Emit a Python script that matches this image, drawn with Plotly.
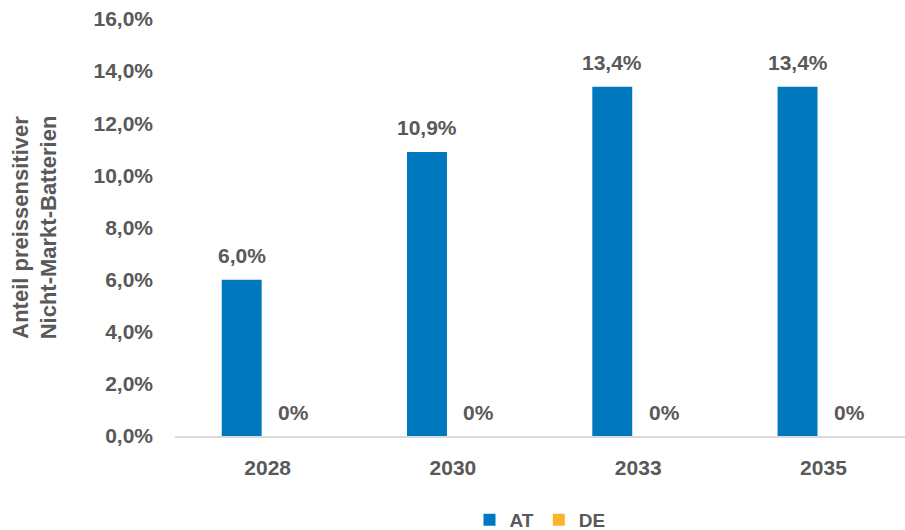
import plotly.graph_objects as go

# Data
years = ["2028", "2030", "2033", "2035"]
at_values = [6.0, 10.9, 13.4, 13.4]
de_values = [0.0, 0.0, 0.0, 0.0]
y_ticks = [0, 2, 4, 6, 8, 10, 12, 14, 16]

BLUE = "#0078BE"
ORANGE = "#FBB32B"
GREY = "#595959"
FONT = "Liberation Sans, Arial, sans-serif"


def fmt(v):
    if v == 0:
        return "0%"
    return f"{v:.1f}".replace(".", ",") + "%"


fig = go.Figure()
fig.add_trace(go.Bar(name="AT", x=years, y=at_values, marker_color=BLUE,
                     marker_line_width=0, hoverinfo="skip"))
fig.add_trace(go.Bar(name="DE", x=years, y=de_values, marker_color=ORANGE,
                     marker_line_width=0, hoverinfo="skip"))

# value labels above each bar
label_font = dict(family=FONT, size=21, color=GREY, weight="bold")
for i, v in enumerate(at_values):
    fig.add_annotation(x=i - 0.14, y=v, text=fmt(v), showarrow=False,
                       yshift=24, xref="x", yref="y", font=label_font)
for i, v in enumerate(de_values):
    fig.add_annotation(x=i + 0.14, y=v, text=fmt(v), showarrow=False,
                       yshift=24, xref="x", yref="y", font=label_font)

fig.update_layout(
    width=905, height=530,
    margin=dict(l=175, r=0, t=19, b=94),
    plot_bgcolor="white", paper_bgcolor="white",
    barmode="group", bargap=0.44, bargroupgap=0.23,
    font=dict(family=FONT, color=GREY),
    showlegend=True,
    legend=dict(orientation="h", x=0.5, xanchor="center", xref="paper",
                y=0.019, yanchor="middle", yref="container",
                font=dict(family=FONT, size=19, color=GREY, weight="bold"),
                itemwidth=30, traceorder="normal"),
)
fig.update_xaxes(
    type="category", range=[-0.5, 3.44],
    showgrid=False, showline=True, linecolor="#D9D9D9", linewidth=2,
    ticks="", ticklabelstandoff=12,
    tickfont=dict(family=FONT, size=21, color=GREY, weight="bold"),
)
fig.update_yaxes(
    range=[0, 16], tickvals=y_ticks,
    ticktext=[f"{t:.1f}".replace(".", ",") + "%" for t in y_ticks],
    showgrid=False, zeroline=False, showline=False, ticks="",
    ticklabelstandoff=21,
    tickfont=dict(family=FONT, size=21, color=GREY, weight="bold"),
    title=dict(text="Anteil preissensitiver<br>Nicht-Markt-Batterien",
               font=dict(family=FONT, size=22, color=GREY, weight="bold"),
               standoff=30),
)

fig.write_html("out.html")
